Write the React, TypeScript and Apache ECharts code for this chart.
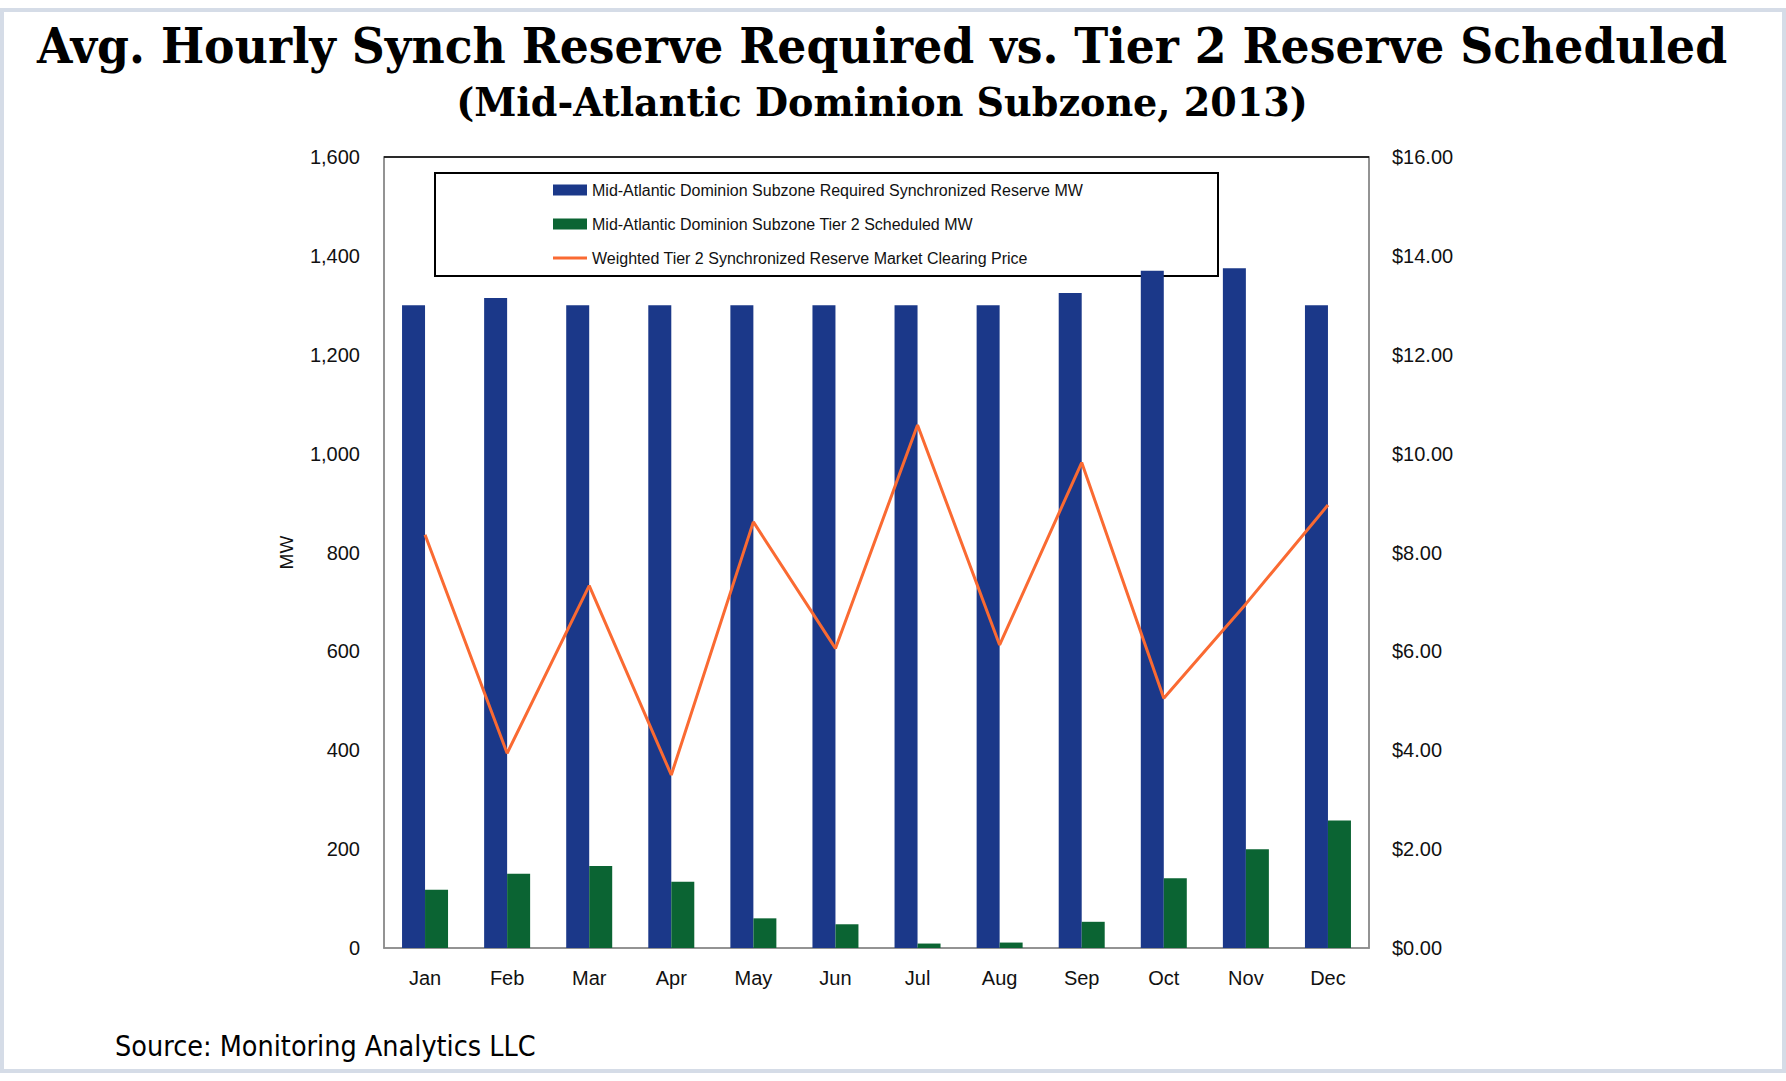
import React, { useEffect, useRef } from "react";
import * as echarts from "echarts";

const TITLE = "Avg. Hourly Synch Reserve Required vs. Tier 2 Reserve Scheduled";
const SUBTITLE = "(Mid-Atlantic Dominion Subzone, 2013)";
const SOURCE = "Source: Monitoring Analytics LLC";

const months = ["Jan", "Feb", "Mar", "Apr", "May", "Jun", "Jul", "Aug", "Sep", "Oct", "Nov", "Dec"];
const requiredMW = [1300, 1315, 1300, 1300, 1300, 1300, 1300, 1300, 1325, 1370, 1375, 1300];
const tier2MW = [118, 150, 166, 134, 60, 48, 9, 11, 53, 141, 200, 258];
const clearingPrice = [8.36, 3.94, 7.33, 3.5, 8.62, 6.06, 10.58, 6.13, 9.82, 5.05, 6.96, 8.96];

const seriesNames = [
  "Mid-Atlantic Dominion Subzone Required Synchronized Reserve MW",
  "Mid-Atlantic Dominion Subzone Tier 2 Scheduled MW",
  "Weighted Tier 2 Synchronized Reserve Market Clearing Price",
];

const mwAxis = { min: 0, max: 1600, interval: 200 };
const priceAxis = { min: 0, max: 16, interval: 2 };

function measure(text: string, font: string): number {
  const ctx = document.createElement("canvas").getContext("2d");
  if (!ctx) return 1;
  ctx.font = font;
  return ctx.measureText(text).width;
}

export default function App() {
  const ref = useRef<HTMLDivElement>(null);

  useEffect(() => {
    if (!ref.current) return;
    const chart = echarts.init(ref.current, undefined, { renderer: "svg" });

    const titleSize = 48;
    const subSize = 40;
    const srcSize = 28;
    const titleW = measure(TITLE, `bold ${titleSize}px "DejaVu Serif"`);
    const subW = measure(SUBTITLE, `bold ${subSize}px "DejaVu Serif"`);
    const srcW = measure(SOURCE, `${srcSize}px "DejaVu Sans"`);

    const gridLeft = 384;
    const gridTop = 157;
    const gridW = 985;
    const gridH = 791;

    chart.setOption({
      animation: false,
      backgroundColor: "#ffffff",
      grid: {
        left: gridLeft,
        top: gridTop,
        width: gridW,
        height: gridH,
        show: true,
        borderColor: "#8c8c8c",
        borderWidth: 1.5,
        backgroundColor: "transparent",
      },
      legend: {
        orient: "vertical",
        left: 548,
        top: 177,
        itemWidth: 34,
        itemHeight: 11,
        itemGap: 18,
        selectedMode: false,
        textStyle: { fontFamily: "Liberation Sans", fontSize: 16, color: "#111" },
        data: [
          { name: seriesNames[0], icon: "rect" },
          { name: seriesNames[1], icon: "rect" },
          { name: seriesNames[2], icon: "path://M0,0 L34,0 L34,3 L0,3 Z" },
        ],
      },
      xAxis: {
        type: "category",
        data: months,
        axisLine: { show: true, lineStyle: { color: "#8c8c8c", width: 1.5 } },
        axisTick: { show: false },
        axisLabel: { margin: 20, fontFamily: "Liberation Sans", fontSize: 20, color: "#111" },
      },
      yAxis: [
        {
          type: "value",
          min: mwAxis.min,
          max: mwAxis.max,
          interval: mwAxis.interval,
          name: "MW",
          nameLocation: "middle",
          nameGap: 88,
          nameRotate: 90,
          nameTextStyle: { fontFamily: "Liberation Sans", fontSize: 19, color: "#111" },
          splitLine: { show: false },
          axisLine: { show: true, lineStyle: { color: "#8c8c8c", width: 1.5 } },
          axisTick: { show: false },
          axisLabel: {
            margin: 24,
            fontFamily: "Liberation Sans",
            fontSize: 20,
            color: "#111",
            formatter: (v: number) => v.toLocaleString("en-US"),
          },
        },
        {
          type: "value",
          min: priceAxis.min,
          max: priceAxis.max,
          interval: priceAxis.interval,
          position: "right",
          splitLine: { show: false },
          axisLine: { show: true, lineStyle: { color: "#8c8c8c", width: 1.5 } },
          axisTick: { show: false },
          axisLabel: {
            margin: 23,
            fontFamily: "Liberation Sans",
            fontSize: 20,
            color: "#111",
            formatter: (v: number) => "$" + v.toFixed(2),
          },
        },
      ],
      series: [
        {
          name: seriesNames[0],
          type: "bar",
          data: requiredMW,
          barWidth: 23,
          barGap: "0%",
          itemStyle: { color: "#1b3889" },
        },
        {
          name: seriesNames[1],
          type: "bar",
          data: tier2MW,
          barWidth: 23,
          barGap: "0%",
          itemStyle: { color: "#0b6433" },
        },
        {
          name: seriesNames[2],
          type: "line",
          yAxisIndex: 1,
          data: clearingPrice,
          symbol: "none",
          lineStyle: { color: "#fa6a32", width: 3 },
          itemStyle: { color: "#fa6a32" },
          z: 5,
        },
      ],
      graphic: [
        {
          type: "rect",
          shape: { x: 2, y: 10, width: 1782, height: 1061 },
          style: { fill: "none", stroke: "#d5dce7", lineWidth: 4 },
          silent: true,
          z: 100,
        },
        {
          type: "line",
          shape: { x1: gridLeft, y1: gridTop, x2: gridLeft + gridW, y2: gridTop },
          style: { stroke: "#000", lineWidth: 1.5 },
          z: 50,
        },
        {
          type: "rect",
          shape: { x: 435, y: 173, width: 783, height: 103 },
          style: { fill: "#fff", stroke: "#000", lineWidth: 2 },
          z: 1,
        },
        {
          type: "text",
          x: 882,
          y: 46,
          scaleX: 1690 / titleW,
          style: {
            text: TITLE,
            fontFamily: "DejaVu Serif",
            fontWeight: "bold",
            fontSize: titleSize,
            fill: "#000",
            textAlign: "center",
            textVerticalAlign: "middle",
          },
        },
        {
          type: "text",
          x: 882,
          y: 102,
          scaleX: 852 / subW,
          style: {
            text: SUBTITLE,
            fontFamily: "DejaVu Serif",
            fontWeight: "bold",
            fontSize: subSize,
            fill: "#000",
            textAlign: "center",
            textVerticalAlign: "middle",
          },
        },
        {
          type: "text",
          x: 115,
          y: 1046,
          scaleX: 421 / srcW,
          style: {
            text: SOURCE,
            fontFamily: "DejaVu Sans",
            fontSize: srcSize,
            fill: "#000",
            textAlign: "left",
            textVerticalAlign: "middle",
          },
        },
      ],
    });

    return () => chart.dispose();
  }, []);

  return (
    <div
      ref={ref}
      style={{ position: "absolute", left: 0, top: 0, width: 1786, height: 1081, background: "#fff" }}
    />
  );
}
